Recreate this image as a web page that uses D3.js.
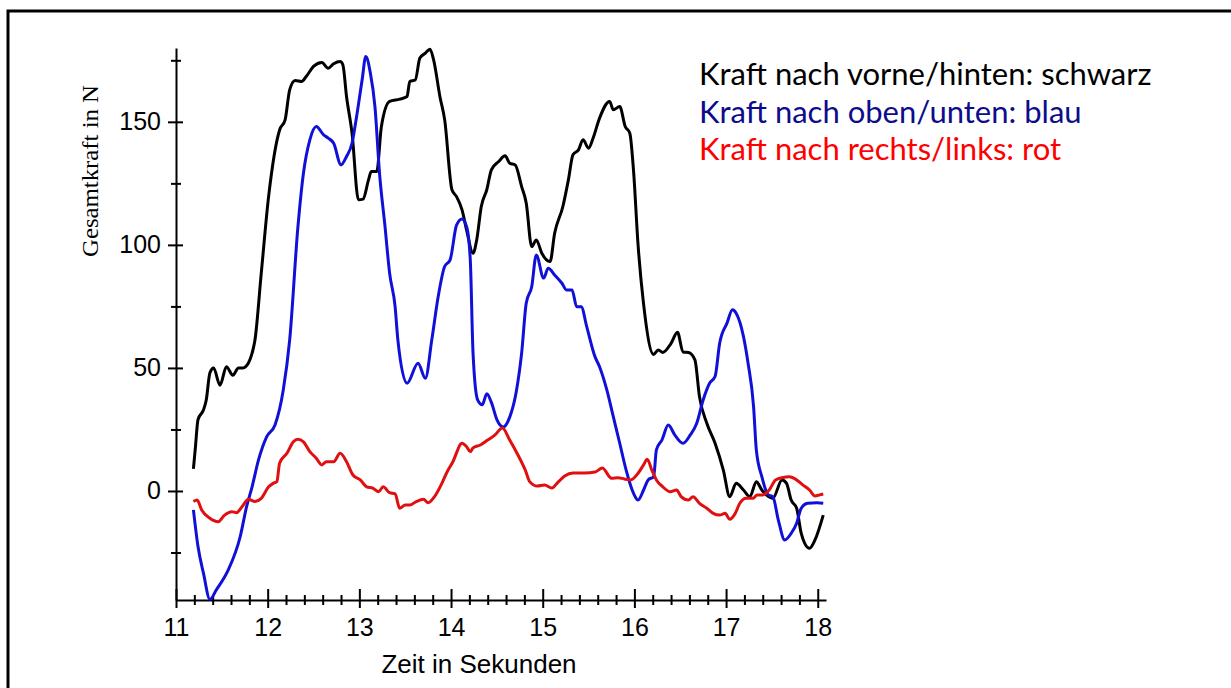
<!DOCTYPE html>
<html>
<head>
<meta charset="utf-8">
<script src="https://cdn.jsdelivr.net/npm/d3@7"></script>
<style>
  html, body { margin: 0; padding: 0; background: #fff; }
  svg { display: block; }
</style>
</head>
<body>
<svg id="chart" width="1231" height="688"></svg>
<script>
// Zeitpunkte (s) und Kraftwerte (N) der drei Komponenten
const blackT = [11.19,11.21,11.24,11.30,11.33,11.37,11.41,11.48,11.55,11.62,11.68,11.73,11.79,11.83,11.86,11.93,12.01,12.13,12.19,12.24,12.30,12.37,12.42,12.50,12.59,12.66,12.72,12.79,12.82,12.86,12.92,12.99,13.04,13.10,13.13,13.19,13.24,13.33,13.44,13.52,13.55,13.61,13.66,13.72,13.77,13.81,13.88,13.93,14.01,14.06,14.12,14.17,14.24,14.28,14.33,14.39,14.44,14.52,14.59,14.64,14.70,14.77,14.82,14.88,14.93,14.99,15.08,15.13,15.22,15.28,15.33,15.39,15.44,15.50,15.55,15.62,15.73,15.77,15.84,15.90,15.95,15.99,16.04,16.10,16.21,16.26,16.31,16.40,16.47,16.53,16.59,16.66,16.71,16.79,16.88,16.97,17.04,17.11,17.19,17.26,17.33,17.39,17.44,17.51,17.61,17.66,17.71,17.77,17.82,17.91,17.97,18.06];
const blackV = [9,17,29,33,37,48,50,43,50.5,47,50,50,52,56,61,88.5,119.6,146.7,150.8,163,166.8,166.4,168.4,172.5,174.1,171.8,173.6,174.5,173.2,160.3,145.4,118.3,118.6,126.4,129.8,129.8,148,158.3,159.2,160.3,166.4,167,175.9,177.9,179.5,175.2,160,151,122.4,119.6,114.2,106,96.6,102,115.6,122.4,130.5,133.9,136.2,133.2,132.5,123.7,117,99.3,102,96.6,93.2,104.7,115.6,126.4,136.6,138.6,142.7,139.3,143.4,151.5,158.3,154.9,156.2,148.1,145.4,130.5,100,76,55.5,57.3,56.3,60,64.5,56.5,56.3,53.3,38.3,27.5,19.4,8.5,-2.3,3.1,0.4,-2.3,3.8,0.4,-1.6,-3,4.5,3.1,-3.7,-7,-17.2,-23.3,-19.9,-9.8];

const blueT = [11.19,11.24,11.30,11.37,11.44,11.57,11.70,11.77,11.83,11.90,11.99,12.08,12.17,12.24,12.33,12.39,12.46,12.53,12.61,12.66,12.72,12.80,12.86,12.92,12.97,13.03,13.07,13.12,13.17,13.22,13.28,13.33,13.39,13.42,13.52,13.64,13.72,13.79,13.86,13.93,13.99,14.06,14.12,14.17,14.21,14.24,14.29,14.34,14.39,14.44,14.50,14.57,14.64,14.71,14.77,14.82,14.88,14.93,15.01,15.06,15.13,15.21,15.26,15.32,15.37,15.42,15.48,15.57,15.62,15.70,15.77,15.84,15.91,15.99,16.04,16.10,16.15,16.21,16.24,16.30,16.37,16.44,16.53,16.61,16.68,16.75,16.82,16.88,16.93,17.01,17.07,17.11,17.19,17.24,17.30,17.33,17.39,17.46,17.51,17.57,17.64,17.71,17.77,17.82,17.89,17.99,18.06];
const blueV = [-7.7,-22.6,-33.5,-44,-40.2,-32.1,-18.6,-6.4,1.7,12.6,22.1,26.8,41,61.4,107.4,129.1,142.7,148.1,144.7,143.4,141.3,132.5,135.9,141.3,152.2,167,176.5,169.8,156.2,129.1,107.4,88.5,74.9,61.4,43.8,51.9,45.8,61.4,79,91.2,93.9,108,110.5,107.4,93.9,56,37,35,39.5,36,29,26,30,40,56,76.3,83,95.9,86.5,90.5,87.8,84.4,81.7,81.7,74.9,74.9,66.8,54.6,50.5,41,30.2,19.4,8.5,-0.9,-3.7,0.4,4.5,5.8,16.7,20.7,26.8,22.8,19.4,22.8,27.5,37,43.8,46.5,60,68.2,73.6,72.2,62.7,51.9,34.3,16.7,5.8,-1.6,-2.3,-11.8,-19.9,-17.2,-13.1,-7,-5,-4.8,-5];

const redT = [11.19,11.23,11.28,11.37,11.46,11.53,11.61,11.66,11.72,11.79,11.86,11.93,12.01,12.06,12.10,12.13,12.21,12.28,12.33,12.39,12.46,12.53,12.59,12.64,12.72,12.79,12.86,12.93,13.01,13.08,13.15,13.21,13.26,13.33,13.39,13.44,13.50,13.55,13.62,13.70,13.75,13.82,13.90,13.95,14.02,14.12,14.17,14.21,14.24,14.32,14.40,14.48,14.56,14.64,14.73,14.81,14.86,14.94,15.02,15.10,15.17,15.24,15.33,15.46,15.57,15.65,15.75,15.82,15.89,15.96,16.04,16.10,16.14,16.19,16.24,16.31,16.39,16.46,16.51,16.59,16.64,16.71,16.79,16.86,16.93,16.99,17.04,17.10,17.15,17.22,17.29,17.34,17.40,17.47,17.54,17.61,17.69,17.77,17.84,17.91,17.97,18.02,18.06];
const redV = [-4.3,-3.7,-7.7,-11.1,-12.5,-9.8,-8.4,-8.8,-6.4,-3.4,-4.3,-3,1.7,3.1,3.8,11.3,15.3,20,21,20,16,13.3,10.6,11.9,11.9,15.3,11.9,6.5,4.5,1.7,1.1,-0.3,1.7,-0.7,-1.2,-7,-5.7,-5.7,-4.3,-3.4,-4.8,-2.3,3.1,7.2,11.9,19.4,18,16,17.5,18.7,20.7,22.8,25.6,20.7,14.6,8.5,3.7,2,2.4,1.2,3.7,6.1,7.3,7.3,7.7,9.3,5.2,5.4,4.9,4.5,7.2,10.6,12.9,8.5,4.5,1.7,-0.3,0.4,-2.3,-3.7,-2.3,-5,-7,-9.1,-9.8,-9.1,-11.5,-9.1,-5,-3,-3,-1.6,-1.6,0.4,4.5,5.4,5.8,4.5,2.4,0.4,-2,-1.6,-1.2];

const xMajorTicks = [11, 12, 13, 14, 15, 16, 17, 18];
const yMajorTicks = [0, 50, 100, 150];
const yMinorTicks = [-25, 25, 75, 125, 175];
const xMinorTicks = d3.range(11, 18.01, 0.2).map(v => +v.toFixed(1)).filter(v => !Number.isInteger(v));

const legendLines = [
  "Kraft nach vorne/hinten: schwarz",
  "Kraft nach oben/unten: blau",
  "Kraft nach rechts/links: rot"
];
const xTitle = "Zeit in Sekunden";
const yTitle = "Gesamtkraft in N";

const svg = d3.select("#chart");

// Rahmen (oben und links)
svg.append("path")
  .attr("d", "M8,688 V11 H1231")
  .attr("fill", "none")
  .attr("stroke", "#000")
  .attr("stroke-width", 3);

const x = d3.scaleLinear().domain([11, 18.09]).range([176, 826]);
const y = d3.scaleLinear().domain([-44.3, 180]).range([600, 48]);

const tickFont = "'Liberation Sans', Arial, sans-serif";

// y-Achse
const gyMinor = svg.append("g").attr("transform", `translate(${x(11)},0)`)
  .call(d3.axisLeft(y).tickValues(yMinorTicks).tickSize(5).tickSizeOuter(0).tickFormat(""));
gyMinor.select(".domain").remove();
gyMinor.selectAll(".tick line").attr("x1", 5).attr("stroke-width", 2);

const gy = svg.append("g").attr("transform", `translate(${x(11)},0)`)
  .call(d3.axisLeft(y).tickValues(yMajorTicks).tickSize(8).tickSizeOuter(0).tickPadding(7));
gy.select(".domain").attr("stroke-width", 2);
gy.selectAll(".tick line").attr("x1", 7).attr("stroke-width", 2);
gy.selectAll(".tick text").attr("font-size", 25).attr("font-family", tickFont).attr("fill", "#000");

// x-Achse
const gxMinor = svg.append("g").attr("transform", `translate(0,${y(-44.3)})`)
  .call(d3.axisBottom(x).tickValues(xMinorTicks).tickSize(5).tickSizeOuter(0).tickFormat(""));
gxMinor.select(".domain").remove();
gxMinor.selectAll(".tick line").attr("y1", -5).attr("stroke-width", 2);

const gx = svg.append("g").attr("transform", `translate(0,${y(-44.3)})`)
  .call(d3.axisBottom(x).tickValues(xMajorTicks).tickSize(8).tickSizeOuter(0).tickPadding(10).tickFormat(d3.format("d")));
gx.select(".domain").attr("stroke-width", 2);
gx.selectAll(".tick line").attr("y1", -11).attr("stroke-width", 2);
gx.selectAll(".tick text").attr("font-size", 25).attr("font-family", tickFont).attr("fill", "#000");

// Achsentitel
svg.append("text")
  .attr("x", 479).attr("y", 673)
  .attr("text-anchor", "middle")
  .attr("font-family", tickFont)
  .attr("font-size", 26)
  .text(xTitle);

svg.append("text")
  .attr("transform", "translate(98,171) rotate(-90)")
  .attr("text-anchor", "middle")
  .attr("font-family", "'Liberation Serif', 'DejaVu Serif', serif")
  .attr("font-size", 24)
  .attr("textLength", 172)
  .attr("lengthAdjust", "spacingAndGlyphs")
  .text(yTitle);

// Kurven
const series = [
  { t: blackT, v: blackV, color: "#000000" },
  { t: blueT, v: blueV, color: "#1010d8" },
  { t: redT, v: redV, color: "#e01010" }
];
const line = d3.line().curve(d3.curveMonotoneX).x(d => x(d[0])).y(d => y(d[1]));
series.forEach(s => {
  svg.append("path")
    .datum(s.t.map((t, i) => [t, s.v[i]]))
    .attr("fill", "none")
    .attr("stroke", s.color)
    .attr("stroke-width", 3)
    .attr("stroke-linejoin", "round")
    .attr("d", line);
});

// Legende
const legendColors = ["#000000", "#0c0c8c", "#ff0000"];
const legend = svg.append("g");
legendLines.forEach((txt, i) => {
  legend.append("text")
    .attr("x", 699)
    .attr("y", 85 + i * 37.5)
    .attr("font-family", "Lato, 'Open Sans', sans-serif")
    .attr("font-size", 31)
    .attr("fill", legendColors[i])
    .text(txt);
});
</script>
</body>
</html>
